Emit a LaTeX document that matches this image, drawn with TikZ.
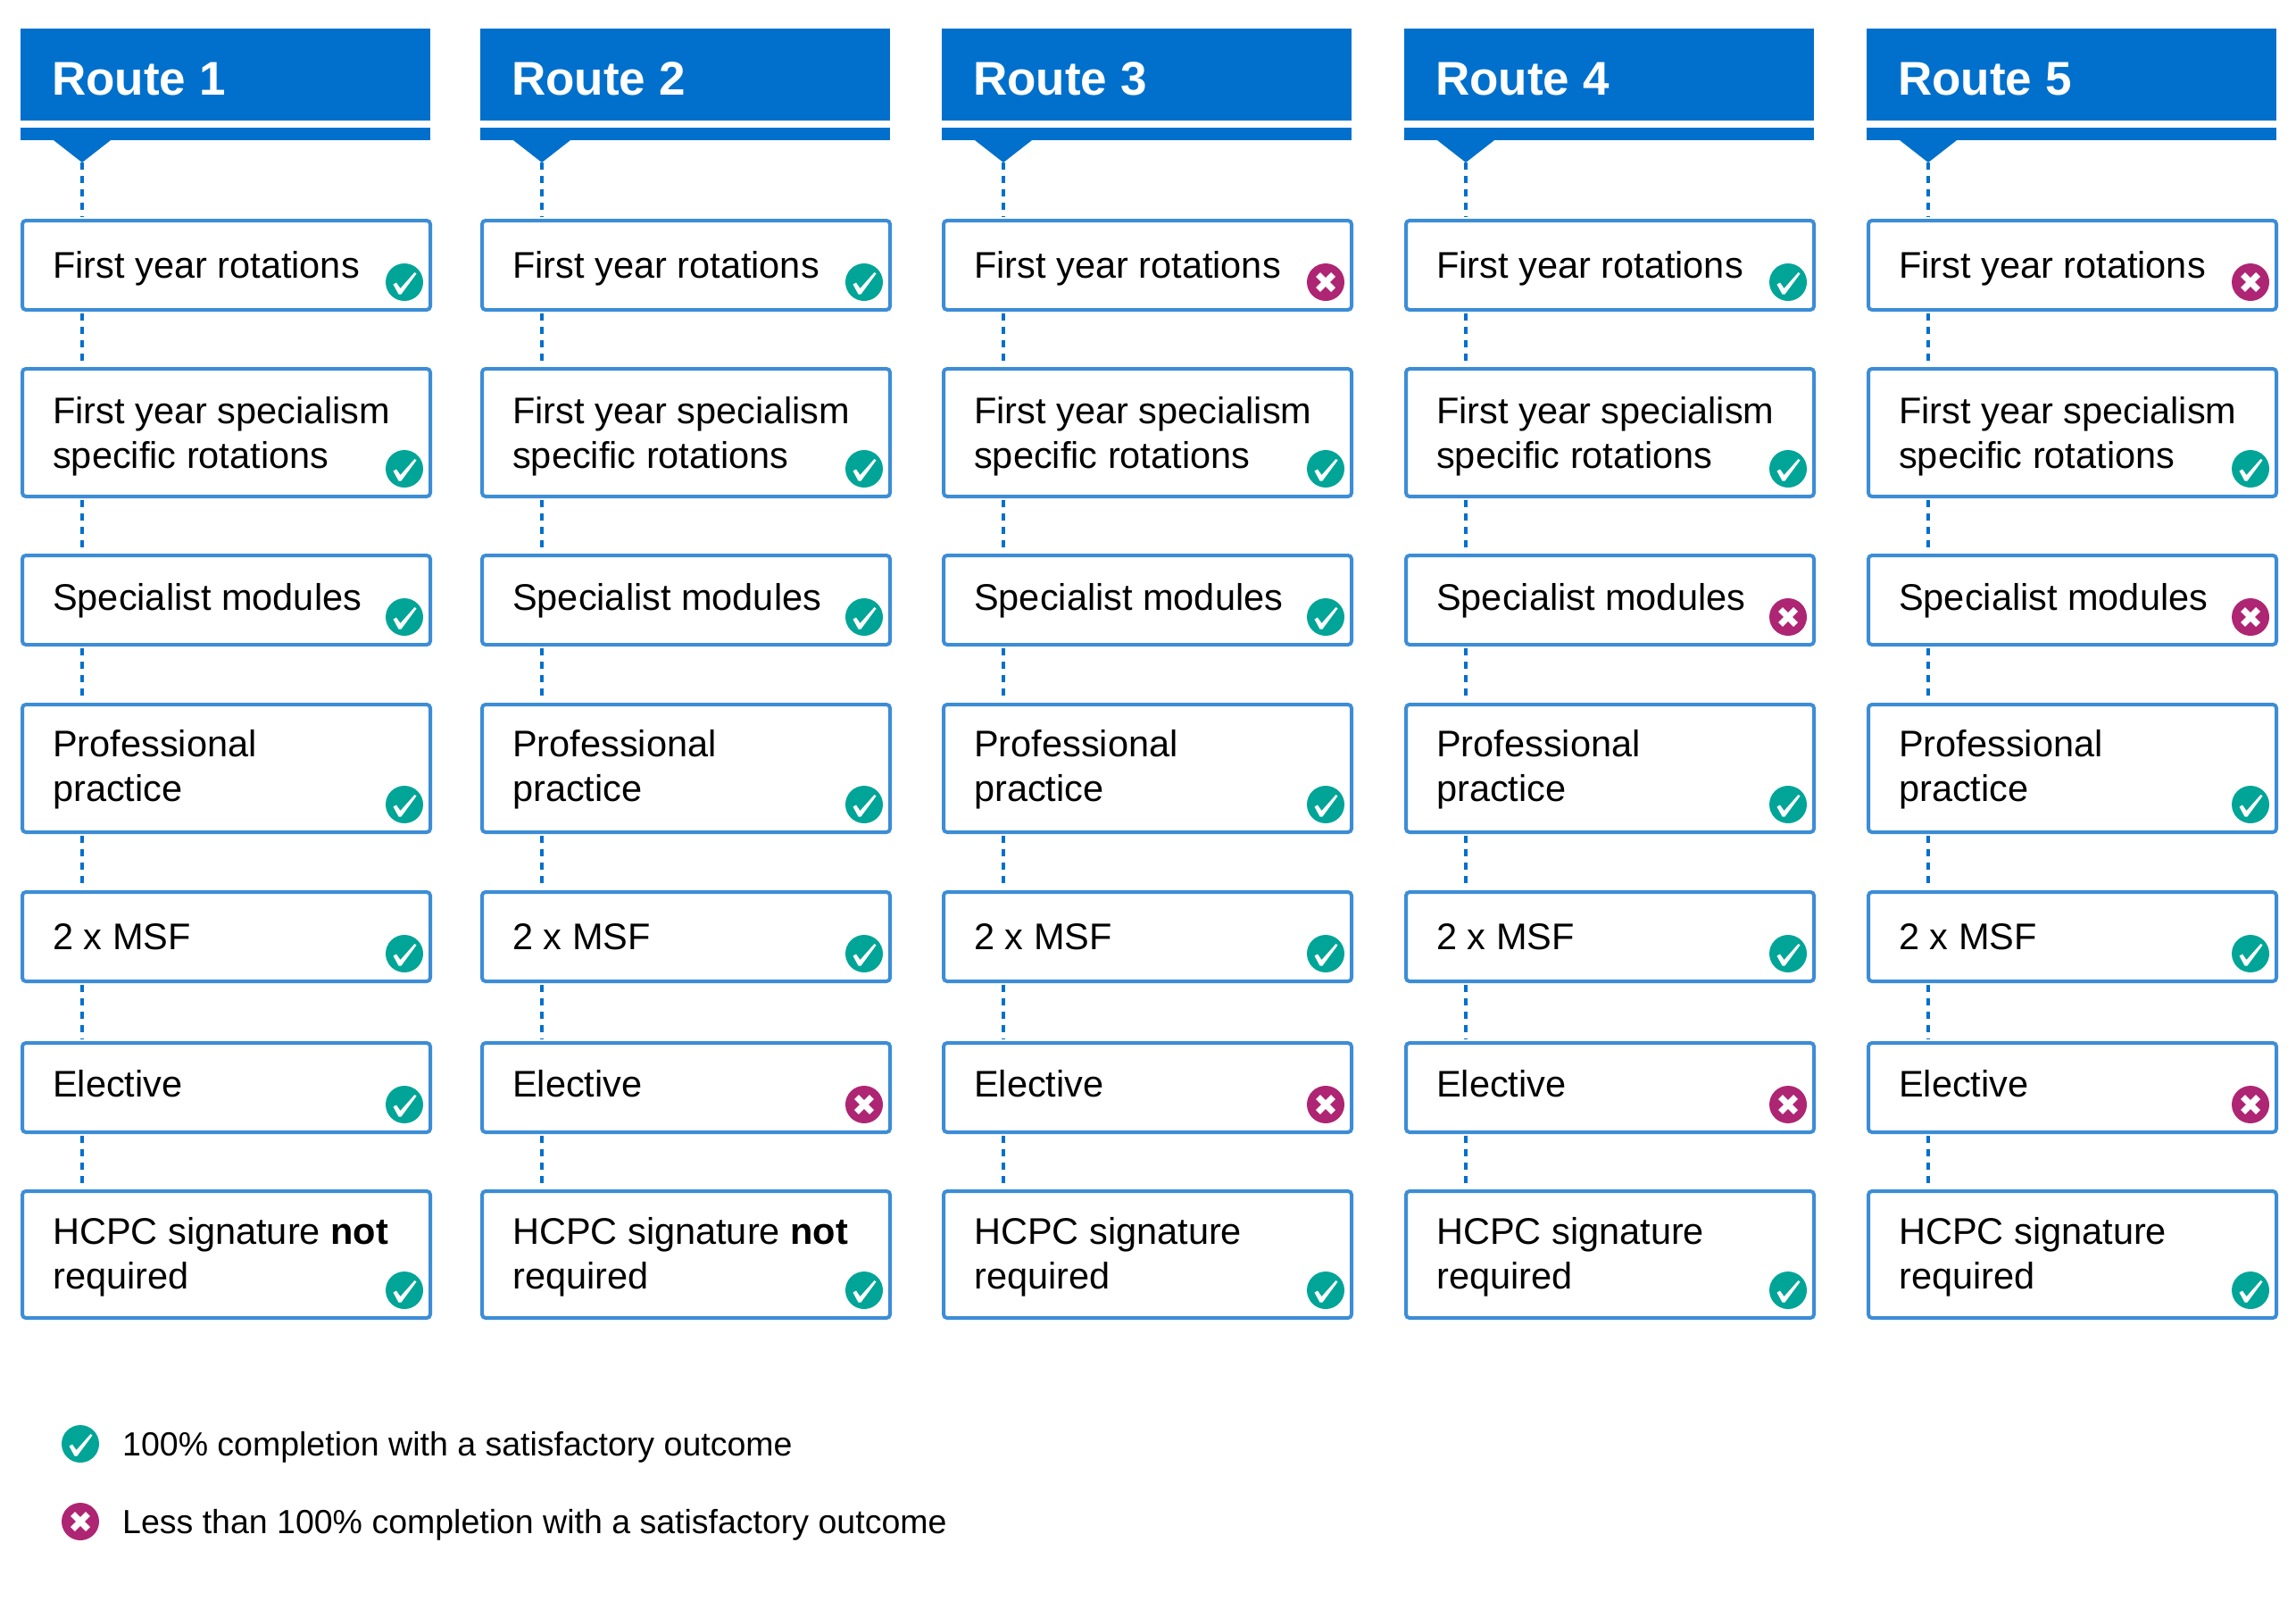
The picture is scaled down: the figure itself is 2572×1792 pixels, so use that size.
\documentclass[tikz,border=0pt]{standalone}
\usepackage{fontspec}
\setmainfont{Liberation Sans}
\definecolor{hblue}{HTML}{0070CC}
\definecolor{bblue}{HTML}{3C8DD6}
\definecolor{okteal}{HTML}{00A598}
\definecolor{nomag}{HTML}{AE2573}
\tikzset{
  boxnode/.style={draw=bblue, line width=4pt, rounded corners=4pt, minimum width=457pt, inner sep=0pt, fill=white},
  txt/.style={anchor=base west, inner sep=0pt, font=\fontsize{41.5}{50}\selectfont},
  legtxt/.style={anchor=base west, inner sep=0pt, font=\fontsize{37.5}{44}\selectfont},
  conn/.style={draw=hblue, line width=4pt, dash pattern=on 8pt off 7pt, shorten <=2pt, shorten >=2pt},
  hdr/.style={fill=hblue, inner sep=0pt},
  hdrtxt/.style={anchor=base west, inner sep=0pt, text=white, font=\fontsize{53}{60}\selectfont\bfseries},
  okicon/.pic={\fill[okteal] (0,0) circle[radius=21pt];
    \fill[white] (-12.5,2.5) -- (-9,0.5) -- (-4.5,7) -- (11.5,-11) -- (13.5,-9.5) -- (-3.5,13.5) -- (-6.5,13.5) -- cycle;},
  noicon/.pic={\fill[nomag] (0,0) circle[radius=21pt];
    \draw[white, line width=7pt] (-8.5,-8.5) -- (8.5,8.5) (-8.5,8.5) -- (8.5,-8.5);},
}
\newcommand\routecol[9]{%
  \node[hdr, anchor=north west, minimum width=459pt, minimum height=103pt] (h#1) at (#2,32) {};
  \fill[hblue] (#2,143) rectangle ++(459,14);
  \fill[hblue] ({#2+37},157) -- ({#2+101},157) -- ({#2+69},182) -- cycle;
  \coordinate (a#1) at ({#2+69},182);
  \node[hdrtxt] (ht#1) at ({#2+35},106) {Route #1};
  \node[boxnode, minimum height=100pt] (b#1r1) at ({#2+230.5},297) {};
  \node[boxnode, minimum height=143pt] (b#1r2) at ({#2+230.5},484.5) {};
  \node[boxnode, minimum height=100pt] (b#1r3) at ({#2+230.5},672) {};
  \node[boxnode, minimum height=143pt] (b#1r4) at ({#2+230.5},860.5) {};
  \node[boxnode, minimum height=100pt] (b#1r5) at ({#2+230.5},1049) {};
  \node[boxnode, minimum height=100pt] (b#1r6) at ({#2+230.5},1218) {};
  \node[boxnode, minimum height=142pt] (b#1r7) at ({#2+230.5},1405) {};
  \node[txt] (t#1r1) at ({#2+36},311) {First year rotations};
  \node[txt] (t#1r2a) at ({#2+36},474) {First year specialism};
  \node[txt] (t#1r2b) at ({#2+36},524) {specific rotations};
  \node[txt] (t#1r3) at ({#2+36},683) {Specialist modules};
  \node[txt] (t#1r4a) at ({#2+36},847) {Professional};
  \node[txt] (t#1r4b) at ({#2+36},897) {practice};
  \node[txt] (t#1r5) at ({#2+36},1063) {2 x MSF};
  \node[txt] (t#1r6) at ({#2+36},1228) {Elective};
  \ifnum#1<3
    \node[txt] (t#1r7a) at ({#2+36},1393) {HCPC signature \textbf{not}};
  \else
    \node[txt] (t#1r7a) at ({#2+36},1393) {HCPC signature};
  \fi
  \node[txt] (t#1r7b) at ({#2+36},1443) {required};
  \pic at ({#2+430},316) {#3};
  \pic at ({#2+430},525) {#4};
  \pic at ({#2+430},691) {#5};
  \pic at ({#2+430},901) {#6};
  \pic at ({#2+430},1068) {#7};
  \pic at ({#2+430},1237) {#8};
  \pic at ({#2+430},1445) {#9};
  \draw[conn, shorten <=0pt] (a#1) -- (a#1 |- b#1r1.north);
  \draw[conn] (a#1 |- b#1r1.south) -- (a#1 |- b#1r2.north);
  \draw[conn] (a#1 |- b#1r2.south) -- (a#1 |- b#1r3.north);
  \draw[conn] (a#1 |- b#1r3.south) -- (a#1 |- b#1r4.north);
  \draw[conn] (a#1 |- b#1r4.south) -- (a#1 |- b#1r5.north);
  \draw[conn] (a#1 |- b#1r5.south) -- (a#1 |- b#1r6.north);
  \draw[conn] (a#1 |- b#1r6.south) -- (a#1 |- b#1r7.north);
}
\begin{document}
\begin{tikzpicture}[x=1pt, y=-1pt]
  \useasboundingbox[fill=white] (0,0) rectangle (2572,1792);
  \routecol{1}{23}{okicon}{okicon}{okicon}{okicon}{okicon}{okicon}{okicon}
  \routecol{2}{538}{okicon}{okicon}{okicon}{okicon}{okicon}{noicon}{okicon}
  \routecol{3}{1055}{noicon}{okicon}{okicon}{okicon}{okicon}{noicon}{okicon}
  \routecol{4}{1573}{okicon}{okicon}{noicon}{okicon}{okicon}{noicon}{okicon}
  \routecol{5}{2091}{noicon}{okicon}{noicon}{okicon}{okicon}{noicon}{okicon}
  \pic at (90,1617) {okicon};
  \node[legtxt] (leg1) at (137,1630) {100\% completion with a satisfactory outcome};
  \pic at (90,1704) {noicon};
  \node[legtxt] (leg2) at (137,1717) {Less than 100\% completion with a satisfactory outcome};
\end{tikzpicture}
\end{document}
